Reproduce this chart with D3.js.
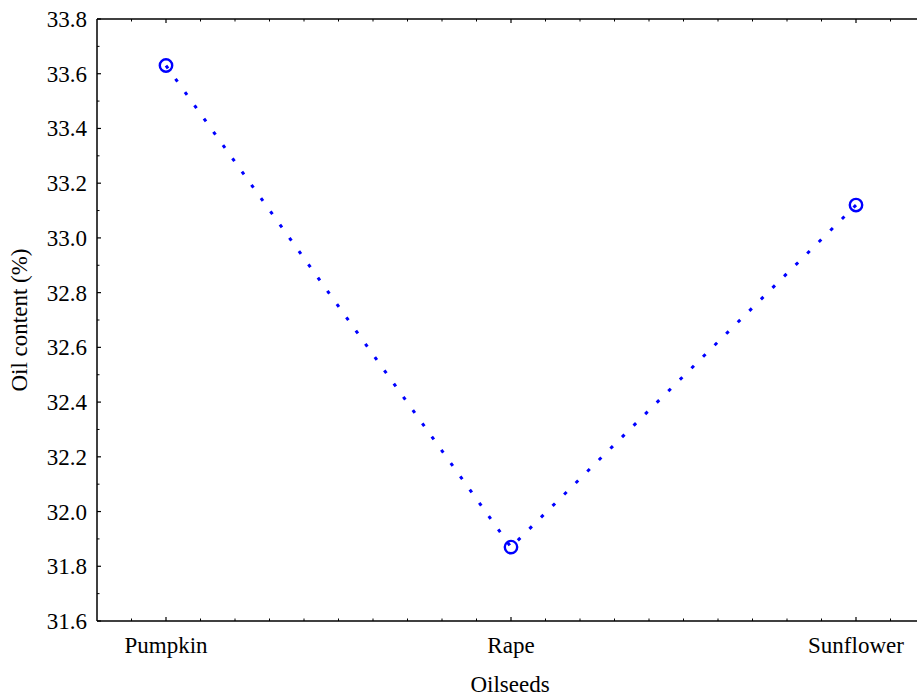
<!DOCTYPE html>
<html>
<head>
<meta charset="utf-8">
<script src="https://cdn.jsdelivr.net/npm/d3@7"></script>
<style>
  body { margin: 0; background: #fff; }
  text { font-family: "Liberation Serif", "Times New Roman", serif; fill: #000; }
</style>
</head>
<body>
<div id="chart"></div>
<script>
const width = 917;
const height = 698;

// data
const categories = ["Pumpkin", "Rape", "Sunflower"];
const oilContent = [33.63, 31.87, 33.12];
const yTicks = [31.6, 31.8, 32.0, 32.2, 32.4, 32.6, 32.8, 33.0, 33.2, 33.4, 33.6, 33.8];

const plotLeft = 97, plotTop = 19, plotBottom = 621, plotRight = 925;

const svg = d3.select("#chart")
  .append("svg")
  .attr("width", width)
  .attr("height", height);

const x = d3.scaleLinear().domain([-0.2, categories.length - 1 + 0.2]).range([plotLeft, plotRight]);
const y = d3.scaleLinear().domain([31.6, 33.8]).range([plotBottom, plotTop]);

// minor ticks every 0.1 category step, majors on categories
const xMinor = d3.range(-0.1, categories.length - 1 + 0.2, 0.1).filter(v => Math.abs(v - Math.round(v)) > 0.01);
const yMinor = d3.range(31.7, 33.8, 0.2);

const axisColor = "#000";

// bottom axis
const bottomAxis = svg.append("g").attr("transform", `translate(0,${plotBottom})`);
bottomAxis.append("line").attr("x1", plotLeft).attr("x2", width).attr("stroke", axisColor).attr("stroke-width", 1.5);
bottomAxis.selectAll(".minor").data(xMinor).join("line")
  .attr("x1", d => x(d)).attr("x2", d => x(d)).attr("y1", 0).attr("y2", -2.5)
  .attr("stroke", axisColor);
bottomAxis.selectAll(".major").data(categories).join("line")
  .attr("x1", (d, i) => x(i)).attr("x2", (d, i) => x(i)).attr("y1", 0).attr("y2", -4)
  .attr("stroke", axisColor).attr("stroke-width", 1.2);
bottomAxis.selectAll("text").data(categories).join("text")
  .attr("x", (d, i) => x(i)).attr("y", 32)
  .attr("text-anchor", "middle").attr("font-size", "23px")
  .text(d => d);

// top axis
const topAxis = svg.append("g").attr("transform", `translate(0,${plotTop})`);
topAxis.append("line").attr("x1", plotLeft).attr("x2", width).attr("stroke", axisColor).attr("stroke-width", 1.5);
topAxis.selectAll(".minor").data(xMinor).join("line")
  .attr("x1", d => x(d)).attr("x2", d => x(d)).attr("y1", 0).attr("y2", 2.5)
  .attr("stroke", axisColor);
topAxis.selectAll(".major").data(categories).join("line")
  .attr("x1", (d, i) => x(i)).attr("x2", (d, i) => x(i)).attr("y1", 0).attr("y2", 4)
  .attr("stroke", axisColor).attr("stroke-width", 1.2);

// left axis
const leftAxis = svg.append("g").attr("transform", `translate(${plotLeft},0)`);
leftAxis.append("line").attr("y1", plotTop).attr("y2", plotBottom).attr("stroke", axisColor).attr("stroke-width", 1.5);
leftAxis.selectAll(".minor").data(yMinor).join("line")
  .attr("y1", d => y(d)).attr("y2", d => y(d)).attr("x1", 0).attr("x2", 2.5)
  .attr("stroke", axisColor);
leftAxis.selectAll(".major").data(yTicks).join("line")
  .attr("y1", d => y(d)).attr("y2", d => y(d)).attr("x1", 0).attr("x2", 4)
  .attr("stroke", axisColor).attr("stroke-width", 1.2);
leftAxis.selectAll("text").data(yTicks).join("text")
  .attr("x", -10).attr("y", d => y(d) + 8)
  .attr("text-anchor", "end").attr("font-size", "23px")
  .text(d => d.toFixed(1));

// axis titles
svg.append("text")
  .attr("x", (plotLeft + width) / 2 + 3).attr("y", 692)
  .attr("text-anchor", "middle").attr("font-size", "23px")
  .text("Oilseeds");

svg.append("text")
  .attr("transform", `translate(27,${(plotTop + plotBottom) / 2}) rotate(-90)`)
  .attr("text-anchor", "middle").attr("font-size", "23px")
  .text("Oil content (%)");

// dotted segments; last one drawn backwards so every marker has a dot at its centre
const pts = oilContent.map((v, i) => [x(i), y(v)]);
const segments = d3.pairs(pts).map((p, i, arr) => i === arr.length - 1 ? [p[1], p[0]] : p);
const line = d3.line();

svg.selectAll(".seg").data(segments).join("path")
  .attr("class", "seg")
  .attr("d", line)
  .attr("fill", "none")
  .attr("stroke", "#0000ff")
  .attr("stroke-width", 3)
  .attr("stroke-dasharray", "3.5,12.8");

svg.selectAll(".pt").data(oilContent).join("circle")
  .attr("class", "pt")
  .attr("cx", (d, i) => x(i)).attr("cy", d => y(d))
  .attr("r", 6.2)
  .attr("fill", "none")
  .attr("stroke", "#0000ff")
  .attr("stroke-width", 2.4);
</script>
</body>
</html>
